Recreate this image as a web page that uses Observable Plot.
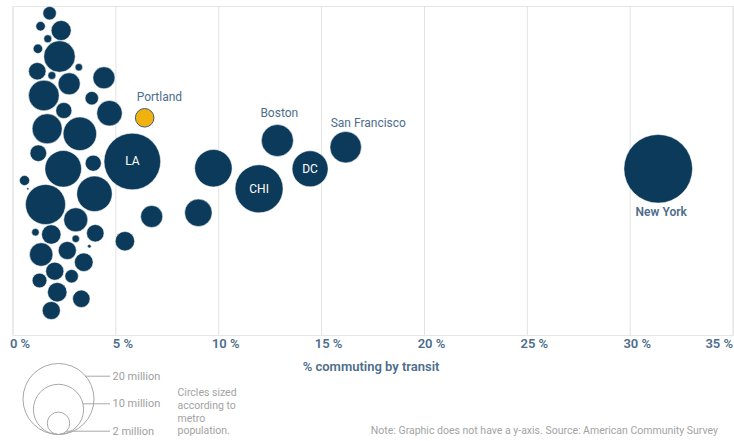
<!DOCTYPE html>
<html>
<head>
<meta charset="utf-8">
<script src="https://cdn.jsdelivr.net/npm/d3@7"></script>
<script src="https://cdn.jsdelivr.net/npm/@observablehq/plot@0.6"></script>
<style>
  html, body { margin: 0; padding: 0; background: #fff; }
  #wrap { position: relative; width: 734px; height: 441px; overflow: hidden; font-family: Roboto, "Noto Sans", sans-serif; }
  #legend { position: absolute; left: 0; top: 358px; }
  #caption { position: absolute; left: 177.5px; top: 387px; font-size: 10.5px; line-height: 12.8px; color: #a3a3a3; }
  #note { position: absolute; right: 16px; top: 425px; font-size: 10.5px; line-height: 12px; color: #a3a3a3; white-space: nowrap; }
</style>
</head>
<body>
<div id="wrap">
  <div id="chart"></div>
  <div id="legend"></div>
  <div id="caption">Circles sized<br>according to<br>metro<br>population.</div>
  <div id="note">Note: Graphic does not have a y-axis. Source: American Community Survey</div>
</div>
<script>
// ---- data ----
// % commuting by transit
const transit = [1.78, 1.34, 2.34, 1.69, 1.21, 2.26, 3.20, 1.18, 1.89, 2.73,
  4.42, 1.50, 3.83, 2.47, 4.69, 1.66, 3.25, 1.23, 2.44, 3.90,
  0.56, 0.72, 1.58, 3.96, 3.05, 1.09, 1.86, 4.00, 3.05, 1.37,
  2.64, 3.71, 3.44, 2.03, 1.29, 2.85, 2.15, 3.32, 1.86,
  6.40, 5.80, 6.74, 5.44, 9.74, 9.01, 12.85, 11.96, 14.44, 16.17, 31.36];
// vertical swarm position (no y-axis; offset from centre line)
const swarm = [155.3, 142.3, 138, 129.7, 119.7, 112, 101.3, 97.3, 93, 84.7,
  90.7, 73, 70.3, 58, 55.3, 39.7, 34.7, 15.3, -0.3, 5.3,
  -12, -20.3, -36, -25.3, -51.3, -63.7, -66, -64.7, -70.3, -86,
  -82, -77.7, -93.7, -102.7, -112, -107.7, -123.7, -130.3, -142,
  50.7, 7, -48, -72.7, 0.3, -44.3, 28, -20.3, -0.3, 21.3, -0.3];
// metro population, millions
const population = [0.71, 0.35, 1.59, 0.25, 0.35, 3.91, 0.22, 1.20, 0.25, 1.92,
  1.92, 3.72, 0.71, 1.02, 2.56, 3.57, 4.43, 1.09, 5.31, 1.02,
  0.40, 0.02, 6.35, 4.97, 2.29, 0.22, 1.49, 1.20, 0.22, 2.17,
  1.29, 0.05, 1.37, 1.29, 0.85, 0.71, 1.49, 1.20, 1.29,
  1.37, 12.7, 1.92, 1.49, 5.55, 2.98, 4.06, 9.14, 5.14, 3.91, 18.67];
const cityNames = Array(39).fill("").concat(
  ["Portland", "LA", "", "", "", "", "Boston", "CHI", "DC", "San Francisco", "New York"]);
const innerLabels = {"LA": "LA", "CHI": "CHI", "DC": "DC"};
const xTicks = [0, 5, 10, 15, 20, 25, 30, 35];
const legendPop = [20, 10, 2];
const legendText = ["20 million", "10 million", "2 million"];

// ---- build ----
const rows = transit.map((t, i) => ({transit: t, pos: swarm[i], pop: population[i], name: cityNames[i]}));
const navy = "#0b3a5a";
const amber = "#f1b20f";
const labelColor = "#4d6d8b";
const rOpts = {type: "sqrt", domain: [0, 20], range: [0, 35.5]};
const pct = d => `${d} %`;

const plain = rows.filter(d => d.name !== "Portland");
const portland = rows.filter(d => d.name === "Portland");
const byName = n => rows.filter(d => d.name === n);

const chart = Plot.plot({
  width: 734,
  height: 380,
  marginLeft: 12.5,
  marginRight: 1.4,
  marginTop: 6,
  marginBottom: 45,
  style: {fontFamily: "Roboto, 'Noto Sans', sans-serif", background: "white", overflow: "visible"},
  x: {domain: [0, 35]},
  y: {domain: [-167, 162], axis: null},
  r: rOpts,
  marks: [
    Plot.frame({stroke: "#e6e6e6"}),
    Plot.gridX(xTicks, {stroke: "#e3e3e3", strokeOpacity: 1}),
    Plot.axisX(xTicks.slice(0, -1), {tickSize: 0, tickPadding: 3, dx: 7, tickFormat: pct,
      fill: labelColor, fontSize: 13, fontWeight: 600, label: null}),
    Plot.axisX(xTicks.slice(-1), {tickSize: 0, tickPadding: 3, textAnchor: "end", tickFormat: pct,
      fill: labelColor, fontSize: 13, fontWeight: 600, label: null}),
    Plot.text(["% commuting by transit"], {frameAnchor: "bottom", dy: 35, dx: -2, text: d => d,
      fill: labelColor, fontSize: 13, fontWeight: 600}),
    Plot.dot(plain, {x: "transit", y: "pos", r: "pop", fill: navy, stroke: "white", strokeWidth: 0.5}),
    Plot.dot(portland, {x: "transit", y: "pos", r: "pop", fill: amber, stroke: "#3f5a70", strokeWidth: 1}),
    Plot.text(rows.filter(d => innerLabels[d.name]), {x: "transit", y: "pos", text: d => innerLabels[d.name],
      fill: "white", fontSize: 12}),
    Plot.text(byName("Portland"), {x: "transit", y: "pos", text: "name", textAnchor: "start", dx: -8, dy: -21,
      fill: labelColor, fontSize: 12}),
    Plot.text(byName("Boston"), {x: "transit", y: "pos", text: "name", textAnchor: "start", dx: -17, dy: -27,
      fill: labelColor, fontSize: 12}),
    Plot.text(byName("San Francisco"), {x: "transit", y: "pos", text: "name", textAnchor: "start", dx: -15, dy: -24,
      fill: labelColor, fontSize: 12}),
    Plot.text(byName("New York"), {x: "transit", y: "pos", text: "name", dx: 3, dy: 43,
      fill: labelColor, fontSize: 12, fontWeight: 600})
  ]
});
document.getElementById("chart").appendChild(chart);

// ---- size legend ----
const rs = Plot.scale({r: rOpts});
const L = {cx: 58, bottom: 76, labelY: [17.7, 45.3, 72.7], labelX: 112, lineEnd: 110};
const legendRows = legendPop.map((v, i) => {
  const r = rs.apply(v);
  const cy = L.bottom - r;
  const ly = L.labelY[i];
  const dy = ly - cy;
  const x1 = L.cx + Math.sqrt(Math.max(0, r * r - dy * dy));
  return {v, label: legendText[i], cx: L.cx, cy, ly, x1};
});
const legend = Plot.plot({
  width: 170,
  height: 83,
  margin: 0,
  style: {fontFamily: "Roboto, 'Noto Sans', sans-serif", background: "transparent"},
  x: {domain: [0, 170], range: [0, 170], axis: null},
  y: {domain: [0, 83], range: [0, 83], axis: null},
  r: rOpts,
  marks: [
    Plot.dot(legendRows, {x: "cx", y: "cy", r: "v", stroke: "#a8a8a8", fill: "none", strokeWidth: 1}),
    Plot.ruleY(legendRows, {y: "ly", x1: "x1", x2: L.lineEnd, stroke: "#a8a8a8", strokeWidth: 1}),
    Plot.text(legendRows, {x: L.labelX, y: "ly", text: "label", textAnchor: "start", fill: "#a0a0a0", fontSize: 11})
  ]
});
document.getElementById("legend").appendChild(legend);
</script>
</body>
</html>
